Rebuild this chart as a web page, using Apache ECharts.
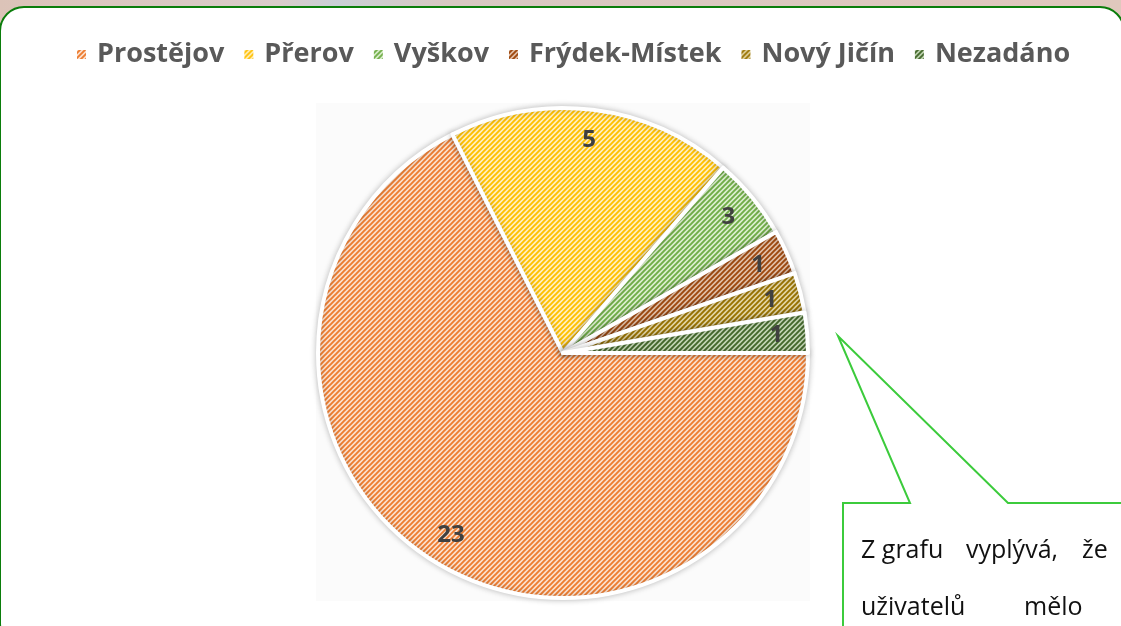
<!DOCTYPE html>
<html>
<head>
<meta charset="utf-8">
<script src="https://cdn.jsdelivr.net/npm/echarts@6/dist/echarts.min.js"></script>
<style>
html,body{margin:0;padding:0;background:#dcc6bd;}
#chart{width:1121px;height:626px;}
</style>
</head>
<body>
<div id="chart"></div>
<script>
var categories = ['Prostějov', 'Přerov', 'Vyškov', 'Frýdek-Místek', 'Nový Jičín', 'Nezadáno'];
var values = [23, 6.4, 1.85, 1, 0.9, 0.9];
// numbers printed on the wedges
var labelTexts = ['23', '5', '3', '1', '1', '1'];
// hatch colours: line colour / background colour
var lineColors = ['#ed7d31', '#ffc000', '#70ad47', '#9e480e', '#997300', '#43682b'];
var backColors = ['#fbe1cf', '#fff0c2', '#dcefcf', '#e2bfa8', '#e3d5a4', '#c3d6b5'];

function hatch(fg, bg){
    var c = document.createElement('canvas');
    c.width = 5; c.height = 5;
    var ctx = c.getContext('2d');
    ctx.fillStyle = bg;
    ctx.fillRect(0, 0, 5, 5);
    ctx.strokeStyle = fg;
    ctx.lineWidth = 1.9;
    ctx.beginPath();
    ctx.moveTo(-1, 6); ctx.lineTo(6, -1);
    ctx.moveTo(-1, 1); ctx.lineTo(1, -1);
    ctx.moveTo(4, 6); ctx.lineTo(6, 4);
    ctx.stroke();
    return c;
}

var pieData = [];
var labelData = [];
for(var a=0;a<categories.length;a++){
    pieData.push({
        name: categories[a],
        value: values[a],
        itemStyle: {color: {image: hatch(lineColors[a], backColors[a]), repeat: 'repeat'}}
    });
    labelData.push({name: categories[a], value: values[a], label: {formatter: labelTexts[a]}});
}

var textFont = '25px "Open Sans"';
var chart = echarts.init(document.getElementById('chart'));
var option = {
    backgroundColor: {
        type: 'linear', x: 0, y: 0, x2: 1, y2: 0,
        colorStops: [
            {offset: 0, color: '#dcc3b8'},
            {offset: 0.25, color: '#d9cdca'},
            {offset: 0.3, color: '#c9d0d6'},
            {offset: 0.4, color: '#d8c9c2'},
            {offset: 1, color: '#e0c8bd'}
        ]
    },
    animation: false,
    graphic: [
        {
            type: 'rect', z: -10,
            shape: {x: 0, y: 7, width: 1124, height: 640, r: 24},
            style: {fill: '#ffffff', stroke: '#0b7d0b', lineWidth: 2}
        },
        {
            type: 'rect', z: -9,
            shape: {x: 316, y: 103, width: 494, height: 498},
            style: {fill: '#fbfbfb'}
        },
        {
            type: 'polygon', z: 10,
            shape: {points: [[843,503],[910,503],[838,336],[1008,503],[1126,503],[1126,640],[843,640]]},
            style: {fill: '#ffffff', stroke: '#3ccb3c', lineWidth: 2}
        },
        {type: 'text', z: 11, left: 861, top: 538, style: {text: 'Z grafu', font: textFont, fill: '#111'}},
        {type: 'text', z: 11, left: 966, top: 538, style: {text: 'vyplývá,', font: textFont, fill: '#111'}},
        {type: 'text', z: 11, left: 1082, top: 538, style: {text: 'že', font: textFont, fill: '#111'}},
        {type: 'text', z: 11, left: 861, top: 595, style: {text: 'uživatelů', font: textFont, fill: '#111'}},
        {type: 'text', z: 11, left: 1024, top: 595, style: {text: 'mělo', font: textFont, fill: '#111'}}
    ],
    legend: {
        top: 36,
        left: 70,
        itemWidth: 11,
        itemHeight: 11,
        itemGap: 18,
        icon: 'rect',
        textStyle: {fontFamily: 'Open Sans', fontWeight: 'bold', fontSize: 27, color: '#595959', padding: [0, 0, 0, 5]},
        data: categories
    },
    series: [
        {
            name: 'pie',
            type: 'pie',
            center: [563, 353],
            radius: [0, 245],
            startAngle: 0,
            clockwise: true,
            silent: true,
            label: {show: false},
            labelLine: {show: false},
            itemStyle: {borderColor: '#ffffff', borderWidth: 4, shadowBlur: 6, shadowColor: 'rgba(0,0,0,0.22)'},
            data: pieData
        },
        {
            name: 'labels',
            type: 'pie',
            center: [563, 353],
            radius: [174, 248],
            startAngle: 0,
            clockwise: true,
            silent: true,
            legendHoverLink: false,
            minShowLabelAngle: 0,
            itemStyle: {color: 'rgba(0,0,0,0)'},
            label: {
                show: true,
                position: 'inside',
                fontFamily: 'Open Sans',
                fontWeight: 'bold',
                fontSize: 24,
                color: '#404040'
            },
            labelLine: {show: false},
            data: labelData
        }
    ]
};
chart.setOption(option);
</script>
</body>
</html>
